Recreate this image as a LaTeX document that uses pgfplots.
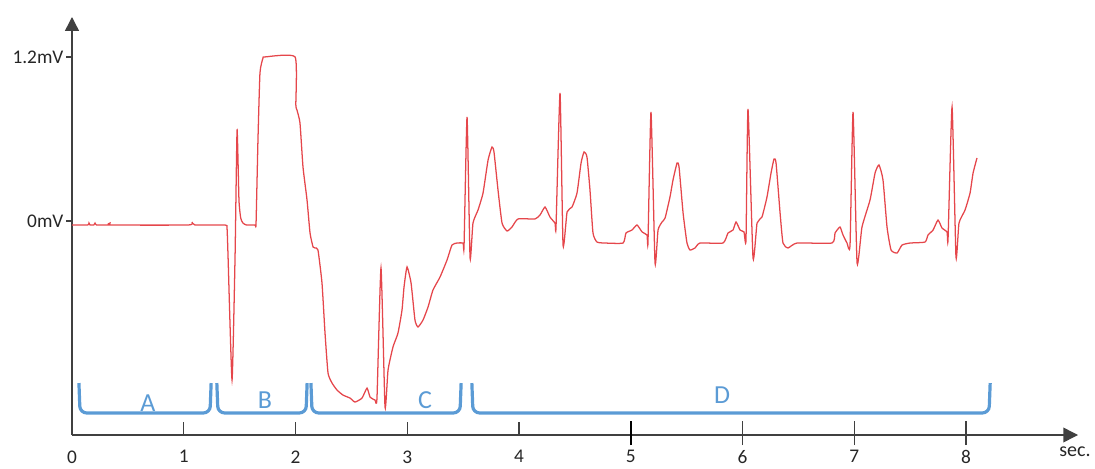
\documentclass[border=0pt]{standalone}
\usepackage{fontspec}
\setmainfont{Carlito}
\usepackage{pgfplots}
\pgfplotsset{compat=1.18}
\usetikzlibrary{arrows.meta}
\definecolor{ecg}{HTML}{E5464B}
\definecolor{brk}{HTML}{5B9BD5}
\definecolor{axc}{HTML}{404040}
\begin{document}
\begin{tikzpicture}
\useasboundingbox (0,0) rectangle (821.25pt,351pt);
\clip (0,0) rectangle (821.25pt,351pt);
\begin{axis}[
  at={(54pt,24.75pt)}, anchor=south west,
  scale only axis, width=754.5pt, height=313.5pt,
  xmin=0, xmax=9.002, ymin=-1.565, ymax=1.492,
  clip=false,
  axis lines=left,
  axis line style={axc, line width=1.1pt},
  x axis line style={-{Triangle[length=11pt,width=11pt]}},
  y axis line style={-{Triangle[length=10.5pt,width=10.5pt]}},
  xtick={0,1,2,3,4,5,6,7,8},
  ytick={0,1.2}, yticklabels={0mV,1.2mV},
  tick align=outside, major tick length=4.5pt,
  tick style={axc, line width=0.9pt},
  xtick style={draw=none},
  /pgf/number format/assume math mode=true,
  tick label style={font=\fontsize{14.5}{16}\selectfont, text=black!85},
  xticklabel style={yshift=-3.6pt},
  yticklabel style={xshift=1.6pt},
]
% ECG trace
\addplot[ecg, line width=0.95pt, smooth, tension=0.3] coordinates {
(0,-0.029) (0.14,-0.029) (0.152,-0.015) (0.161,-0.029) (0.195,-0.029) (0.206,-0.015) (0.22,-0.029)
(0.33,-0.029) (0.340,-0.015) (0.35,-0.029) (1.04,-0.029) (1.074,-0.007) (1.10,-0.029) (1.369,-0.029)
(1.387,-0.05) (1.396,-0.249) (1.432,-1.163) (1.459,-0.263) (1.477,0.666) (1.494,0.154) (1.51,0.02)
(1.530,-0.015) (1.56,-0.029) (1.638,-0.029) (1.647,-0.015) (1.664,0.592) (1.682,1.083) (1.709,1.192)
(1.727,1.200) (1.996,1.200) (2.003,0.85) (2.013,0.812) (2.040,0.717) (2.067,0.395) (2.103,0.154)
(2.130,-0.088) (2.157,-0.190) (2.174,-0.197) (2.201,-0.212) (2.237,-0.454) (2.264,-0.819) (2.291,-1.112)
(2.327,-1.185) (2.371,-1.236) (2.425,-1.273) (2.488,-1.295) (2.532,-1.324) (2.595,-1.295) (2.640,-1.222)
(2.667,-1.287) (2.711,-1.309) (2.729,-1.295) (2.765,-0.344) (2.801,-1.361) (2.828,-1.090) (2.872,-0.922)
(2.917,-0.819) (2.953,-0.651) (2.971,-0.483) (2.998,-0.336) (3.034,-0.454) (3.069,-0.724) (3.096,-0.775)
(3.141,-0.724) (3.186,-0.629) (3.230,-0.505) (3.293,-0.410) (3.356,-0.285) (3.400,-0.176) (3.445,-0.161)
(3.499,-0.161) (3.508,-0.183)
(3.535,0.761) (3.562,-0.271) (3.588,-0.015) (3.633,0.080) (3.678,0.205) (3.723,0.446) (3.758,0.541)
(3.776,0.505) (3.812,0.227) (3.848,-0.015) (3.893,-0.073) (3.937,-0.044) (3.991,0.015) (4.143,0.015)
(4.188,0.044) (4.233,0.102) (4.277,0.029) (4.322,-0.015) (4.331,-0.044)
(4.367,0.936) (4.394,-0.176) (4.430,0.066) (4.474,0.102) (4.519,0.205) (4.555,0.424) (4.582,0.505)
(4.608,0.468) (4.635,0.227) (4.662,-0.088) (4.698,-0.154) (4.770,-0.161) (4.931,-0.161) (4.957,-0.088)
(5.011,-0.066) (5.056,-0.029) (5.101,-0.080) (5.145,-0.102) (5.154,-0.154)
(5.181,0.797) (5.217,-0.307) (5.244,-0.066) (5.280,-0.007) (5.307,0.022) (5.351,0.176) (5.378,0.300)
(5.414,0.424) (5.432,0.395) (5.468,0.059) (5.503,-0.161) (5.530,-0.212) (5.575,-0.197) (5.620,-0.161)
(5.825,-0.161) (5.870,-0.088) (5.915,-0.066) (5.942,-0.007) (5.978,-0.066) (6.013,-0.080) (6.031,-0.139)
(6.049,0.819) (6.094,-0.271) (6.130,-0.015) (6.174,0.029) (6.219,0.176) (6.255,0.351) (6.282,0.454)
(6.300,0.424) (6.336,0.059) (6.362,-0.161) (6.407,-0.197) (6.488,-0.161) (6.801,-0.161) (6.828,-0.088)
(6.872,-0.044) (6.899,-0.102) (6.935,-0.161) (6.962,-0.176)
(6.989,0.797) (7.025,-0.307) (7.069,-0.044) (7.141,0.154) (7.186,0.351) (7.221,0.410) (7.257,0.300)
(7.293,-0.044) (7.329,-0.212) (7.383,-0.234) (7.427,-0.176) (7.499,-0.161) (7.633,-0.154) (7.660,-0.102)
(7.705,-0.066) (7.749,0.007) (7.785,-0.051) (7.830,-0.080) (7.839,-0.132)
(7.875,0.834) (7.910,-0.263) (7.937,-0.015) (7.991,0.080) (8.036,0.205) (8.063,0.351) (8.098,0.461)
};
% brackets
\addplot[brk, line width=2.4pt, rounded corners=5pt] coordinates {(0.062,-1.185) (0.072,-1.404) (1.235,-1.404) (1.245,-1.185)};
\addplot[brk, line width=2.4pt, rounded corners=5pt] coordinates {(1.296,-1.185) (1.306,-1.404) (2.094,-1.404) (2.104,-1.185)};
\addplot[brk, line width=2.4pt, rounded corners=5pt] coordinates {(2.138,-1.185) (2.148,-1.404) (3.472,-1.404) (3.482,-1.185)};
\addplot[brk, line width=2.4pt, rounded corners=5pt] coordinates {(3.578,-1.185) (3.588,-1.404) (8.206,-1.404) (8.216,-1.185)};
\node[brk, font=\fontsize{19.5}{21}\selectfont] at (axis cs:0.680,-1.331) {A};
\node[brk, font=\fontsize{19.5}{21}\selectfont] at (axis cs:1.727,-1.309) {B};
\node[brk, font=\fontsize{19.5}{21}\selectfont] at (axis cs:3.159,-1.309) {C};
\node[brk, font=\fontsize{19.5}{21}\selectfont] at (axis cs:5.817,-1.273) {D};
% x tick marks
\pgfplotsinvokeforeach{1,2,3,4}{\draw[axc, line width=0.9pt] (axis cs:#1,-1.565) -- ++(0pt,9.75pt);}
\pgfplotsinvokeforeach{6,7,8}{\draw[axc, line width=0.9pt] (axis cs:#1,-1.565) ++(0pt,-7.5pt) -- ++(0pt,18pt);}
\draw[black, line width=1.8pt] (axis cs:5,-1.565) ++(0pt,-7.5pt) -- ++(0pt,18pt);
\end{axis}
\node[font=\fontsize{15}{17}\selectfont, text=black!85] at (806.25pt,12pt) {sec.};
\end{tikzpicture}
\end{document}
